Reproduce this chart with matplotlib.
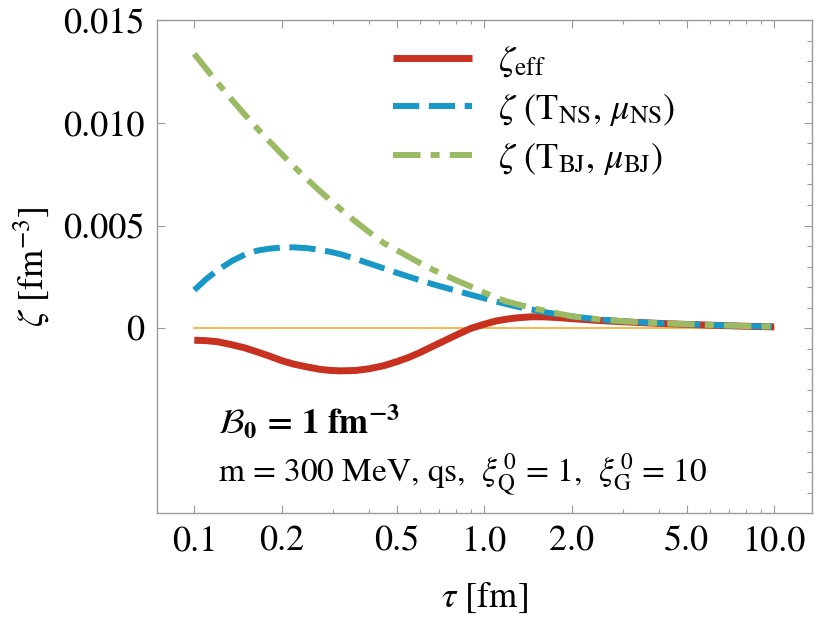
import matplotlib
matplotlib.use("Agg")
import matplotlib.pyplot as plt
from matplotlib.ticker import FixedLocator, NullFormatter, FixedFormatter
import numpy as np

plt.rcParams['font.family'] = ['STIXGeneral', 'Liberation Serif', 'DejaVu Serif']
plt.rcParams['mathtext.fontset'] = 'stix'

# ---- data, values in units of 1e-3 fm^-3 ----
tau = [0.1, 0.11, 0.12, 0.135, 0.15, 0.165, 0.18, 0.2, 0.22, 0.245, 0.27, 0.295,
       0.32, 0.36, 0.4, 0.45, 0.5, 0.55, 0.6, 0.67, 0.75, 0.82, 0.9, 1.0, 1.1,
       1.2, 1.3, 1.45, 1.6, 1.8, 2.0, 2.5, 3.2, 4.0, 5.0, 6.5, 8.0, 10.0]
zeta_eff = [-0.58, -0.60, -0.65, -0.80, -0.96, -1.15, -1.33, -1.57, -1.74, -1.88,
            -1.99, -2.05, -2.07, -2.05, -1.97, -1.82, -1.62, -1.41, -1.18, -0.85,
            -0.52, -0.26, 0.00, 0.20, 0.36, 0.45, 0.51, 0.56, 0.56, 0.52, 0.47,
            0.38, 0.30, 0.24, 0.19, 0.14, 0.10, 0.07]
zeta_ns = [1.86, 2.40, 2.82, 3.28, 3.60, 3.78, 3.87, 3.93, 3.94, 3.90, 3.82, 3.72,
           3.60, 3.38, 3.16, 2.92, 2.70, 2.51, 2.34, 2.13, 1.94, 1.79, 1.63, 1.46,
           1.30, 1.17, 1.05, 0.92, 0.80, 0.68, 0.58, 0.43, 0.32, 0.25, 0.20, 0.15,
           0.11, 0.08]
zeta_bj = [13.35, 12.62, 11.96, 11.11, 10.37, 9.72, 9.15, 8.48, 7.89, 7.25, 6.70,
           6.22, 5.79, 5.19, 4.69, 4.15, 3.80, 3.47, 3.18, 2.83, 2.52, 2.27, 2.03,
           1.74, 1.48, 1.30, 1.17, 1.01, 0.87, 0.72, 0.59, 0.43, 0.32, 0.25, 0.20,
           0.15, 0.11, 0.08]
scale = 1e-3

xticks = [0.1, 0.2, 0.5, 1.0, 2.0, 5.0, 10.0]
xticklabels = ["0.1", "0.2", "0.5", "1.0", "2.0", "5.0", "10.0"]
yticks = [0.0, 0.005, 0.010, 0.015]
yticklabels = ["0", "0.005", "0.010", "0.015"]

tau = np.array(tau)
fig = plt.figure(figsize=(8.34, 6.18), dpi=100)
ax = fig.add_axes([156.7/834, 1 - 512.7/618, (812 - 156.7)/834, (512.7 - 20)/618])

red = '#C8311F'
blue = '#1898C6'
green = '#9BBA64'

ax.plot([tau[0], tau[-1]], [0, 0], color='#F7A21B', lw=1.1, zorder=1)
l1, = ax.plot(tau, np.array(zeta_eff) * scale, color=red, lw=5, solid_capstyle='butt',
              solid_joinstyle='round', zorder=2)
l2, = ax.plot(tau, np.array(zeta_ns) * scale, color=blue, lw=4.3, dashes=(4.4, 1.6),
              dash_capstyle='butt', zorder=3)
l3, = ax.plot(tau, np.array(zeta_bj) * scale, color=green, lw=4.3, dashes=(4.6, 1.7, 1.5, 1.7),
              dash_capstyle='butt', zorder=4)

ax.set_xscale('log')
ax.set_xlim(0.0742, 13.5)
ax.set_ylim(-0.00897, 0.015)

ax.xaxis.set_major_locator(FixedLocator(xticks))
ax.xaxis.set_major_formatter(FixedFormatter(xticklabels))
minx = [0.3, 0.4, 0.6, 0.7, 0.8, 0.9, 3, 4, 6, 7, 8, 9]
ax.xaxis.set_minor_locator(FixedLocator(minx))
ax.xaxis.set_minor_formatter(NullFormatter())

ax.yaxis.set_major_locator(FixedLocator(yticks))
ax.yaxis.set_major_formatter(FixedFormatter(yticklabels))
miny = [v * 0.001 for v in range(-8, 15) if v % 5 != 0] + [-0.005]
ax.yaxis.set_minor_locator(FixedLocator(miny))
ax.yaxis.set_minor_formatter(NullFormatter())

gray = '#9a9a9a'
for s in ax.spines.values():
    s.set_color(gray)
    s.set_linewidth(1.0)
ax.tick_params(axis='both', which='major', direction='in', color=gray, width=0.8,
               length=5.5, labelsize=26, top=True, right=True, pad=9)
ax.tick_params(axis='x', which='minor', direction='in', color=gray, width=0.8,
               length=3, top=True, bottom=True)
ax.tick_params(axis='y', which='minor', direction='in', color=gray, width=0.8,
               length=3.5, left=False, right=True)

ax.set_xlabel(r"$\tau$ [fm]", fontsize=26, labelpad=16)
ax.set_ylabel(r"$\zeta$ [fm$^{-3}$]", fontsize=26, labelpad=8)

leg = ax.legend([l1, l2, l3],
                [r"$\zeta_{\rm eff}$", r"$\zeta$ (T$_{\rm NS}$, $\mu_{\rm NS}$)",
                 r"$\zeta$ (T$_{\rm BJ}$, $\mu_{\rm BJ}$)"],
                loc='upper left', bbox_to_anchor=(393/834, 1 - 44/618),
                bbox_transform=fig.transFigure, frameon=False, fontsize=26,
                handlelength=2.2, handletextpad=0.7, labelspacing=0.36,
                borderpad=0, borderaxespad=0)

fig.text(218/834, 1 - 433/618, r"$\mathbf{\mathcal{B}_0}$ = 1 fm$^{\mathbf{-3}}$",
         fontsize=25, fontweight='bold', ha='left', va='baseline')
fig.text(218/834, 1 - 482/618,
         r"m = 300 MeV, qs,  $\xi_{\rm Q}^{\,0}$ = 1,  $\xi_{\rm G}^{\,0}$ = 10",
         fontsize=24, ha='left', va='baseline')

fig.savefig("out.png", dpi=100, facecolor='white')
